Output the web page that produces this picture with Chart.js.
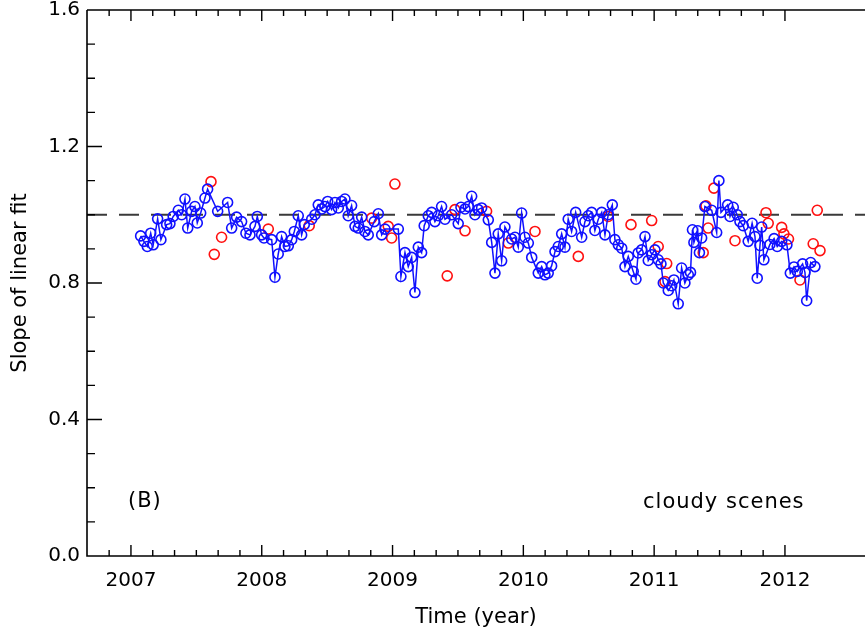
<!DOCTYPE html>
<html>
<head>
<meta charset="utf-8">
<script src="https://cdn.jsdelivr.net/npm/chart.js@4.4.1/dist/chart.umd.min.js"></script>
<style>
  html, body { margin: 0; padding: 0; background: #fff; }
  canvas { display: block; }
</style>
</head>
<body>
<canvas id="slopeChart" width="865" height="635"></canvas>
<script>
// Blue series: slope per period (decimal year)
const blueTimes = [
  2007.074, 2007.099, 2007.125, 2007.151, 2007.170, 2007.204, 2007.229, 2007.273, 2007.298, 2007.323,
  2007.362, 2007.388, 2007.413, 2007.434, 2007.464, 2007.489, 2007.507, 2007.533, 2007.566, 2007.586,
  2007.663, 2007.739, 2007.770, 2007.808, 2007.846, 2007.879, 2007.910, 2007.948, 2007.966, 2007.999,
  2008.017, 2008.076, 2008.101, 2008.126, 2008.152, 2008.177, 2008.203, 2008.229, 2008.249, 2008.279,
  2008.305, 2008.325, 2008.382, 2008.407, 2008.432, 2008.458, 2008.483, 2008.504, 2008.534, 2008.560,
  2008.585, 2008.611, 2008.636, 2008.661, 2008.687, 2008.713, 2008.738, 2008.764, 2008.789, 2008.814,
  2008.860, 2008.891, 2008.917, 2008.942, 2009.044, 2009.064, 2009.095, 2009.120, 2009.146, 2009.171,
  2009.197, 2009.222, 2009.242, 2009.273, 2009.299, 2009.324, 2009.349, 2009.375, 2009.401, 2009.452,
  2009.502, 2009.523, 2009.554, 2009.579, 2009.605, 2009.630, 2009.655, 2009.681, 2009.732, 2009.758,
  2009.783, 2009.808, 2009.834, 2009.859, 2009.911, 2009.936, 2009.961, 2009.987, 2010.012, 2010.038,
  2010.064, 2010.114, 2010.140, 2010.165, 2010.190, 2010.216, 2010.242, 2010.267, 2010.293, 2010.318,
  2010.343, 2010.369, 2010.400, 2010.446, 2010.471, 2010.496, 2010.522, 2010.547, 2010.573, 2010.599,
  2010.624, 2010.649, 2010.680, 2010.700, 2010.726, 2010.752, 2010.777, 2010.802, 2010.840, 2010.861,
  2010.878, 2010.904, 2010.930, 2010.955, 2010.981, 2011.006, 2011.031, 2011.052, 2011.070, 2011.108,
  2011.134, 2011.151, 2011.184, 2011.210, 2011.235, 2011.261, 2011.278, 2011.293, 2011.304, 2011.333,
  2011.346, 2011.363, 2011.388, 2011.440, 2011.478, 2011.495, 2011.511, 2011.562, 2011.580, 2011.605,
  2011.635, 2011.656, 2011.681, 2011.719, 2011.749, 2011.771, 2011.788, 2011.809, 2011.822, 2011.839,
  2011.885, 2011.917, 2011.941, 2011.975, 2012.015, 2012.041, 2012.069, 2012.094, 2012.135, 2012.153,
  2012.166, 2012.197, 2012.229
];
const blueSlopes = [
  0.938, 0.922, 0.907, 0.946, 0.912, 0.988, 0.927, 0.971, 0.974, 0.995,
  1.013, 1.000, 1.046, 0.961, 1.010, 1.024, 0.976, 1.005, 1.049, 1.075,
  1.010, 1.036, 0.961, 0.993, 0.980, 0.946, 0.941, 0.966, 0.995, 0.941,
  0.932, 0.927, 0.817, 0.885, 0.936, 0.907, 0.909, 0.927, 0.951, 0.997,
  0.941, 0.971, 0.987, 1.000, 1.029, 1.017, 1.024, 1.039, 1.015, 1.036,
  1.020, 1.039, 1.046, 0.997, 1.027, 0.966, 0.961, 0.993, 0.951, 0.941,
  0.980, 1.003, 0.941, 0.958, 0.958, 0.819, 0.889, 0.848, 0.875, 0.772,
  0.905, 0.889, 0.968, 0.997, 1.007, 0.980, 0.997, 1.024, 0.987, 1.000,
  0.974, 1.022, 1.017, 1.024, 1.054, 1.000, 1.015, 1.020, 0.985, 0.919,
  0.829, 0.944, 0.865, 0.964, 0.929, 0.934, 0.905, 1.005, 0.934, 0.917,
  0.875, 0.829, 0.848, 0.824, 0.829, 0.850, 0.892, 0.907, 0.944, 0.905,
  0.987, 0.951, 1.007, 0.934, 0.980, 0.997, 1.007, 0.954, 0.987, 1.007,
  0.941, 1.000, 1.029, 0.927, 0.912, 0.902, 0.848, 0.878, 0.834, 0.811,
  0.888, 0.897, 0.936, 0.866, 0.883, 0.897, 0.868, 0.856, 0.800, 0.778,
  0.792, 0.809, 0.739, 0.844, 0.800, 0.824, 0.831, 0.956, 0.919, 0.953,
  0.889, 0.932, 1.024, 1.013, 0.948, 1.100, 1.007, 1.029, 0.995, 1.022,
  1.000, 0.980, 0.968, 0.922, 0.975, 0.936, 0.814, 0.910, 0.964, 0.868,
  0.913, 0.930, 0.907, 0.922, 0.912, 0.829, 0.847, 0.834, 0.856, 0.831,
  0.748, 0.860, 0.848
];

// Red series: only the circles that show from under the blue ones
const redTimes = [
  2007.612, 2007.637, 2007.693, 2008.050, 2008.363, 2008.840, 2008.967, 2008.993, 2009.018, 2009.418,
  2009.477, 2009.554, 2009.719, 2009.885, 2010.089, 2010.420, 2010.649, 2010.823, 2010.981, 2011.031,
  2011.083, 2011.096, 2011.375, 2011.396, 2011.413, 2011.457, 2011.618, 2011.855, 2011.872, 2011.975,
  2011.992, 2012.027, 2012.115, 2012.216, 2012.247, 2012.268
];
const redSlopes = [
  1.097, 0.884, 0.934, 0.958, 0.968, 0.990, 0.966, 0.932, 1.090, 0.821,
  1.015, 0.953, 1.010, 0.917, 0.951, 0.878, 0.995, 0.971, 0.983, 0.907,
  0.804, 0.857, 0.889, 1.026, 0.961, 1.078, 0.924, 1.006, 0.975, 0.963,
  0.944, 0.929, 0.809, 0.915, 1.013, 0.895
];

const xTickYears = [2007, 2008, 2009, 2010, 2011, 2012];
const yTickValues = [0.0, 0.4, 0.8, 1.2, 1.6];
const referenceSlope = 1.0;

const FONT = "'DejaVu Sans', sans-serif";

function toPoints(xs, ys) {
  return xs.map((x, i) => ({ x: x, y: ys[i] }));
}

// Axes box, inward ticks, dashed reference line and the two labels
const framePlugin = {
  id: "frame",
  beforeDatasetsDraw(chart) {
    const { ctx, chartArea, scales } = chart;
    const y1 = scales.y.getPixelForValue(referenceSlope);
    ctx.save();
    ctx.strokeStyle = "#3a3a3a";
    ctx.lineWidth = 2;
    ctx.setLineDash([20, 12]);
    ctx.beginPath();
    ctx.moveTo(chartArea.left, y1);
    ctx.lineTo(chartArea.right, y1);
    ctx.stroke();
    ctx.restore();
  },
  afterDraw(chart) {
    const { ctx, chartArea, scales } = chart;
    const { left, right, top, bottom } = chartArea;
    ctx.save();
    ctx.strokeStyle = "#000";
    ctx.lineWidth = 1.6;
    ctx.beginPath();
    ctx.moveTo(left, top);
    ctx.lineTo(right, top);
    ctx.moveTo(left, top);
    ctx.lineTo(left, bottom);
    ctx.lineTo(right, bottom);
    ctx.stroke();

    ctx.lineWidth = 1.4;
    ctx.beginPath();
    // x ticks: major each year, minor every two months
    for (let k = 0; k <= 36; k++) {
      const v = 2006 + k / 6;
      const px = scales.x.getPixelForValue(v);
      if (px < left + 1 || px > right - 1) continue;
      const len = k % 6 === 0 ? 11 : 6;
      ctx.moveTo(px, bottom);
      ctx.lineTo(px, bottom - len);
      ctx.moveTo(px, top);
      ctx.lineTo(px, top + len);
    }
    // y ticks: major every 0.4, minor every 0.1
    for (let k = 1; k < 16; k++) {
      const py = scales.y.getPixelForValue(k / 10);
      const len = k % 4 === 0 ? 15 : 8;
      ctx.moveTo(left, py);
      ctx.lineTo(left + len, py);
    }
    ctx.stroke();

    ctx.fillStyle = "#000";
    ctx.font = "21px " + FONT;
    ctx.letterSpacing = "1px";
    ctx.textBaseline = "middle";
    ctx.textAlign = "left";
    ctx.fillText("(B)", left + 41, bottom - 54);
    ctx.fillText("cloudy scenes", left + 556, bottom - 53);
    ctx.restore();
  }
};

new Chart(document.getElementById("slopeChart"), {
  type: "scatter",
  data: {
    datasets: [
      {
        label: "blue",
        data: toPoints(blueTimes, blueSlopes),
        showLine: true,
        borderColor: "#1010ff",
        borderWidth: 1.5,
        pointRadius: 5,
        pointBorderWidth: 1.6,
        pointBorderColor: "#1010ff",
        pointBackgroundColor: "rgba(0,0,0,0)",
        pointHoverRadius: 5,
        order: 1
      },
      {
        label: "red",
        data: toPoints(redTimes, redSlopes),
        showLine: false,
        pointRadius: 5,
        pointBorderWidth: 1.6,
        pointBorderColor: "#ff1010",
        pointBackgroundColor: "rgba(0,0,0,0)",
        order: 2
      }
    ]
  },
  options: {
    responsive: false,
    animation: false,
    layout: { autoPadding: false, padding: { top: 10, left: 0, right: 0, bottom: 0 } },
    plugins: {
      legend: { display: false },
      tooltip: { enabled: false }
    },
    scales: {
      x: {
        type: "linear",
        min: 2006.664,
        max: 2012.612,
        grid: { display: false, drawTicks: false },
        border: { display: false },
        afterBuildTicks: (s) => { s.ticks = xTickYears.map((v) => ({ value: v })); },
        afterFit: (s) => { s.height = 79; s.paddingLeft = 0; s.paddingRight = 0; },
        ticks: {
          padding: 13,
          color: "#000",
          font: { family: FONT, size: 20 },
          maxRotation: 0,
          callback: (v) => String(v)
        },
        title: {
          display: true,
          text: "Time (year)",
          color: "#000",
          font: { family: FONT, size: 21 },
          padding: { top: 0, bottom: 5 }
        }
      },
      y: {
        min: 0,
        max: 1.6,
        grid: { display: false, drawTicks: false },
        border: { display: false },
        afterBuildTicks: (s) => { s.ticks = yTickValues.map((v) => ({ value: v })); },
        afterFit: (s) => { s.width = 87; s.paddingTop = 0; s.paddingBottom = 0; },
        ticks: {
          padding: 7,
          color: "#000",
          font: { family: FONT, size: 20 },
          callback: (v) => v.toFixed(1)
        },
        title: {
          display: true,
          text: "Slope of linear fit",
          color: "#000",
          font: { family: FONT, size: 21 },
          padding: { top: 8, bottom: 0 }
        }
      }
    }
  },
  plugins: [framePlugin]
});
</script>
</body>
</html>
